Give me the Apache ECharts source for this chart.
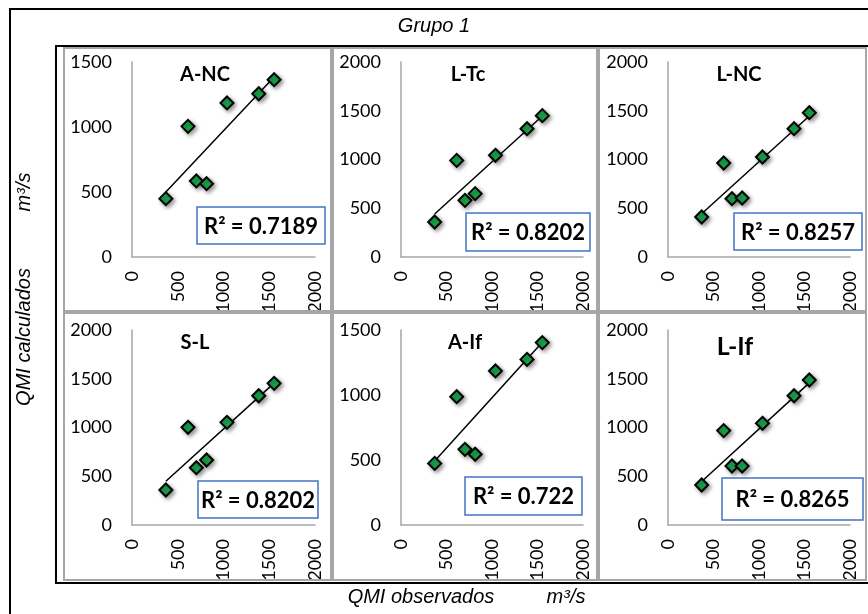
<!DOCTYPE html>
<html>
<head>
<meta charset="utf-8">
<script src="https://cdn.jsdelivr.net/npm/echarts@6/dist/echarts.min.js"></script>
<style>html,body{margin:0;padding:0;background:#fff;}#c{width:868px;height:614px;}</style>
</head>
<body>
<div id="c"></div>
<script>
// ---- data ----
const chartTitle = 'Grupo 1';
const panelNames = ['A-NC', 'L-Tc', 'L-NC', 'S-L', 'A-If', 'L-If'];
const obsX = [370, 612, 703, 815, 1038, 1385, 1553];
const calcANC = [449, 1005, 585, 564, 1185, 1256, 1364];
const calcLTc = [359, 991, 581, 650, 1043, 1316, 1450];
const calcLNC = [410, 964, 598, 605, 1026, 1316, 1480];
const calcSL  = [359, 1002, 588, 667, 1053, 1326, 1453];
const calcAIf = [474, 987, 582, 544, 1185, 1274, 1403];
const calcLIf = [410, 968, 605, 605, 1043, 1326, 1487];
const r2Labels = ['R² = 0.7189', 'R² = 0.8202', 'R² = 0.8257', 'R² = 0.8202', 'R² = 0.722', 'R² = 0.8265'];
const yMaxes = [1500, 2000, 2000, 2000, 1500, 2000];
const xMax = 2000;
const tickStep = 500;
const xAxisName = 'QMI observados';
const yAxisName = 'QMI calculados';
const unitName = 'm³/s';

const calcSets = [calcANC, calcLTc, calcLNC, calcSL, calcAIf, calcLIf];

// ---- layout ----
const colX = [132, 401, 668];
const colW = [183, 182, 182];
const rowY = [62, 330];
const plotH = 195;
const panelRects = [
  [64, 48, 267, 263], [333, 48, 264, 263], [599, 48, 267, 263],
  [64, 313, 267, 267], [333, 313, 264, 267], [599, 313, 267, 267]
];
const nameCenters = [[205, 75], [468, 75], [739, 75], [195, 343], [465, 343], [735, 347]];
const nameSizes = [20, 20, 20, 20, 20, 25];
const r2Boxes = [
  [197, 207, 128, 37], [466, 213, 124, 38], [734, 213, 128, 37],
  [198, 481, 120, 37], [465, 477, 117, 38], [722, 478, 141, 42]
];

const FONT = 'Lato, "Open Sans", sans-serif';
const AFONT = 'italic 20px "Liberation Sans", Arial, sans-serif';

function fit(xs, ys) {
  const n = xs.length;
  let sx = 0, sy = 0, sxx = 0, sxy = 0;
  for (let i = 0; i < n; i++) { sx += xs[i]; sy += ys[i]; sxx += xs[i] * xs[i]; sxy += xs[i] * ys[i]; }
  const b = (n * sxy - sx * sy) / (n * sxx - sx * sx);
  const a = (sy - b * sx) / n;
  const x0 = Math.min(...xs), x1 = Math.max(...xs);
  return [[x0, a + b * x0], [x1, a + b * x1]];
}

const grids = [], xAxes = [], yAxes = [], series = [], graphics = [];

// outer frames
graphics.push({ type: 'rect', shape: { x: 10, y: 9, width: 880, height: 640 }, style: { fill: null, stroke: '#000', lineWidth: 2 }, z: 1 });
graphics.push({ type: 'rect', shape: { x: 56, y: 46, width: 830, height: 537 }, style: { fill: null, stroke: '#000', lineWidth: 2 }, z: 1 });
graphics.push({ type: 'text', x: 434, y: 26, style: { text: chartTitle, font: AFONT, fill: '#000', textAlign: 'center', textVerticalAlign: 'middle' } });
graphics.push({ type: 'text', x: 421, y: 597, style: { text: xAxisName, font: AFONT, fill: '#000', textAlign: 'center', textVerticalAlign: 'middle' } });
graphics.push({ type: 'text', x: 566, y: 597, style: { text: unitName, font: AFONT, fill: '#000', textAlign: 'center', textVerticalAlign: 'middle' } });
graphics.push({ type: 'text', x: 24, y: 337, rotation: Math.PI / 2, style: { text: yAxisName, font: AFONT, fill: '#000', textAlign: 'center', textVerticalAlign: 'middle' } });
graphics.push({ type: 'text', x: 24, y: 192, rotation: Math.PI / 2, style: { text: unitName, font: AFONT, fill: '#000', textAlign: 'center', textVerticalAlign: 'middle' } });

for (let i = 0; i < 6; i++) {
  const c = i % 3, r = Math.floor(i / 3);
  const pr = panelRects[i];
  graphics.push({ type: 'rect', shape: { x: pr[0], y: pr[1], width: pr[2], height: pr[3] }, style: { fill: null, stroke: '#a6a6a6', lineWidth: 2 }, z: 2 });
  grids.push({ left: colX[c], top: rowY[r], width: colW[c], height: plotH, containLabel: false });
  xAxes.push({
    gridIndex: i, type: 'value', min: 0, max: xMax, interval: tickStep,
    axisLine: { show: true, lineStyle: { color: '#a6a6a6', width: 1.5 } },
    axisTick: { show: false }, splitLine: { show: false },
    axisLabel: { rotate: 90, margin: 14, fontSize: 18, color: '#000', fontFamily: FONT, formatter: v => String(v) }
  });
  yAxes.push({
    gridIndex: i, type: 'value', min: 0, max: yMaxes[i], interval: tickStep,
    axisLine: { show: true, lineStyle: { color: '#a6a6a6', width: 1.5 } },
    axisTick: { show: false }, splitLine: { show: false },
    axisLabel: { margin: 20, fontSize: 18, color: '#000', fontFamily: FONT, formatter: v => String(v) }
  });
  const pts = obsX.map((x, k) => [x, calcSets[i][k]]);
  series.push({
    type: 'line', xAxisIndex: i, yAxisIndex: i, data: fit(obsX, calcSets[i]),
    showSymbol: false, symbol: 'none', silent: true,
    lineStyle: { color: '#000', width: 1.5 }, z: 3
  });
  series.push({
    type: 'scatter', xAxisIndex: i, yAxisIndex: i, data: pts,
    symbol: 'diamond', symbolSize: 13,
    itemStyle: { color: '#1aab4e', borderColor: '#000', borderWidth: 2, opacity: 1,
      shadowBlur: 4, shadowColor: 'rgba(0,0,0,0.4)', shadowOffsetX: 2, shadowOffsetY: 2 },
    z: 4
  });
  const nc = nameCenters[i];
  graphics.push({ type: 'text', x: nc[0], y: nc[1], style: { text: panelNames[i], font: 'bold ' + nameSizes[i] + 'px ' + FONT, fill: '#000', textAlign: 'center', textVerticalAlign: 'middle' }, z: 5 });
  const b = r2Boxes[i];
  graphics.push({ type: 'rect', shape: { x: b[0], y: b[1], width: b[2], height: b[3] }, style: { fill: '#fff', stroke: '#4472c4', lineWidth: 1.5 }, z: 5 });
  graphics.push({ type: 'text', x: b[0] + b[2] / 2, y: b[1] + b[3] / 2 + 1, style: { text: r2Labels[i], font: 'bold 22px ' + FONT, fill: '#000', textAlign: 'center', textVerticalAlign: 'middle' }, z: 6 });
}

const chart = echarts.init(document.getElementById('c'), null, { renderer: 'canvas' });
chart.setOption({
  animation: false,
  backgroundColor: '#fff',
  grid: grids, xAxis: xAxes, yAxis: yAxes, series: series,
  graphic: graphics
});
</script>
</body>
</html>
